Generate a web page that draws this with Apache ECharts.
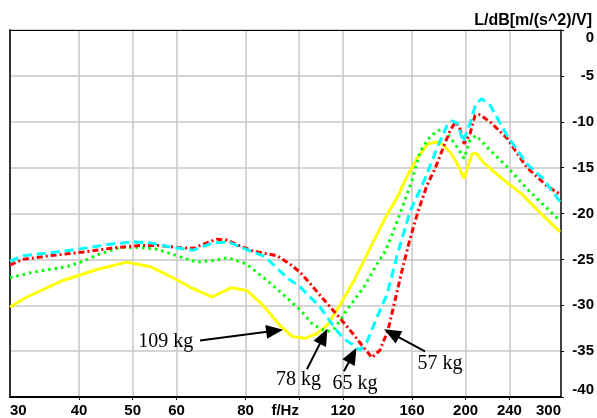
<!DOCTYPE html>
<html><head><meta charset="utf-8">
<script src="https://cdn.jsdelivr.net/npm/echarts@6/dist/echarts.min.js"></script>
<style>html,body{margin:0;padding:0;background:#fff}#c{width:597px;height:418px}</style>
</head><body><div id="c"></div>
<script>
// ---- data (frequency in Hz, level in dB) ----
const freq57 = [30,31.7,35.4,40.7,46.8,51.5,56.0,60.1,64.3,68.1,71.0,74.1,77.2,82.5,91.2,96.2,100.4,105.9,112.3,118.5,125.1,130.4,135.4,140.0,144.8,149.0,153.5,158.6,164.0,170.3,176.1,182.0,187.4,191.3,194.6,198.7,203.7,208.0,211.4,221.4,237.6,258.2,280.6,296.3];
const db57   = [-25.6,-25.0,-24.6,-24.2,-23.7,-23.5,-23.5,-23.7,-23.8,-23.2,-22.8,-22.9,-23.4,-24.1,-24.6,-25.5,-26.4,-28.0,-29.8,-31.4,-33.1,-34.5,-35.7,-34.9,-32.7,-29.5,-26.2,-22.8,-19.8,-16.9,-15.1,-12.9,-11.0,-10.1,-10.4,-12.4,-11.3,-9.3,-9.2,-10.0,-11.8,-15.0,-17.0,-17.9];

const freq65 = [30,31.7,35.4,40.7,46.1,50.1,53.8,59.1,64.3,69.8,74.4,80.2,86.7,95.1,100.4,109.1,115.1,120.0,125.1,128.8,132.6,138.3,144.2,150.3,158.6,168.9,177.5,185.1,189.0,193.7,197.8,203.7,208.8,214.1,221.4,237.6,258.2,276.0,296.3];
const db65   = [-25.2,-24.6,-24.3,-23.8,-23.3,-23.1,-23.2,-23.7,-24.0,-23.2,-23.1,-23.9,-24.7,-27.0,-28.0,-30.2,-32.2,-33.6,-34.3,-34.9,-34.0,-31.3,-28.8,-24.6,-19.8,-16.2,-12.9,-10.4,-9.9,-10.2,-12.2,-10.2,-8.0,-7.5,-8.2,-11.5,-14.6,-16.2,-18.7];

const freq78 = [30,33.0,38.0,40.7,43.6,47.4,51.5,55.3,60.1,65.3,70.4,74.4,80.2,86.7,92.3,100.4,105.9,112.3,116.1,122.0,131.0,138.3,143.2,147.2,152.2,160.0,165.4,171.0,177.5,182.0,187.4,193.7,198.7,203.7,208.8,221.4,237.6,258.2,272.6,296.3];
const db78   = [-27.0,-26.4,-25.8,-25.2,-24.4,-23.7,-23.7,-23.9,-24.6,-25.3,-25.1,-24.8,-25.5,-27.1,-28.5,-30.5,-32.1,-32.9,-32.5,-30.5,-28.0,-25.5,-24.1,-22.3,-20.0,-16.4,-13.3,-11.9,-11.0,-10.8,-11.7,-12.9,-14.0,-12.0,-11.5,-13.1,-14.9,-17.3,-18.7,-20.8];

const freq109 = [30,32.2,37.4,43.1,48.8,53.8,59.1,64.3,69.6,75.3,80.5,85.7,92.3,97.1,102.5,107.7,112.3,118.5,126.2,134.3,143.6,150.9,155.4,163.3,171.0,177.5,182.0,187.4,192.9,198.7,205.4,209.7,215.0,230.8,253.9,272.6,296.3];
const db109   = [-30.2,-29.1,-27.3,-26.1,-25.3,-25.8,-27.0,-28.2,-29.1,-28.1,-28.4,-29.9,-32.2,-33.4,-33.6,-33.1,-32.2,-30.0,-27.1,-23.8,-20.3,-18.1,-16.4,-14.0,-12.4,-12.2,-12.5,-13.3,-14.5,-16.2,-13.5,-13.5,-14.4,-16.0,-18.0,-19.9,-22.0];

// axis ticks
const xTickFreqs  = [30,40,50,60,80,100,120,160,200,240,300];
const xTickLabels = ['30','40','50','60','80','f/Hz','120','160','200','240','300'];
const xGridFreqs  = [40,50,60,80,100,120,160,200,240];
const xMinFreq = 30, xMaxFreq = 297.5;
const yMin = -40, yMax = 0, yStep = 5;
const yName = 'L/dB[m/(s^2)/V]';

// annotations
const annoText     = ['109 kg','78 kg','65 kg','57 kg'];
const annoTextFreq = [57.4, 99.7, 126.2, 179.8];
const annoTextDb   = [-33.96, -38.11, -38.6, -36.33];
const arrowFromFreq = [66.2, 103.3, 120.5, 168.9];
const arrowFromDb   = [-33.85, -36.98, -37.2, -35.04];
const arrowToFreq   = [90.3, 110.7, 124.9, 146.9];
const arrowToDb     = [-32.78, -33.39, -35.44, -33.06];

// ---- chart ----
const L = Math.log10;
const xMin = L(xMinFreq), xMax = L(xMaxFreq);
const toPts = (f, d) => f.map((v, i) => [L(v), d[i]]);
const labelPos = xTickFreqs.map(f => Math.min(L(f), xMax));
const labelMap = {};
labelPos.forEach((p, i) => { labelMap[p.toFixed(6)] = xTickLabels[i]; });

const bold = {fontFamily: 'Liberation Sans, Arial, sans-serif', fontWeight: 'bold', fontSize: 15, color: '#000'};

const chart = echarts.init(document.getElementById('c'), null, {renderer: 'canvas'});
chart.setOption({
  animation: false,
  backgroundColor: '#fff',
  grid: {left: 10, right: 36, top: 30, bottom: 17, containLabel: false},
  xAxis: [{
    type: 'value', min: xMin, max: xMax, position: 'bottom',
    axisLine: {show: true, onZero: false, lineStyle: {color: '#000', width: 2}},
    axisTick: {show: true, customValues: xGridFreqs.map(L), length: 3, lineStyle: {color: '#000'}},
    splitLine: {show: true, lineStyle: {color: '#c8c8c8', width: 1.5}},
    axisLabel: Object.assign({}, bold, {
      customValues: labelPos, margin: 6,
      alignMinLabel: 'left', alignMaxLabel: 'right',
      formatter: v => {
        const t = labelMap[v.toFixed(6)] || '';
        return t === 'f/Hz' ? '{f|f/Hz}' : t;
      },
      rich: {f: Object.assign({}, bold, {padding: [0, 28, 0, 0]})}
    })
  }, {
    type: 'value', min: xMin, max: xMax, position: 'top',
    axisLine: {show: true, onZero: false, lineStyle: {color: '#000', width: 1}},
    axisTick: {show: false}, axisLabel: {show: false}, splitLine: {show: false}
  }],
  yAxis: [{
    type: 'value', min: yMin, max: yMax, interval: yStep, position: 'right',
    axisLine: {show: true, onZero: false, lineStyle: {color: '#000', width: 1.5}},
    axisTick: {show: true, length: 3, lineStyle: {color: '#000'}},
    splitLine: {show: true, lineStyle: {color: '#c8c8c8', width: 1.5}},
    axisLabel: Object.assign({}, bold, {
      margin: 33, align: 'right',
      verticalAlignMaxLabel: 'top', verticalAlignMinLabel: 'bottom'
    })
  }, {
    type: 'value', min: yMin, max: yMax, position: 'left',
    axisLine: {show: true, onZero: false, lineStyle: {color: '#333', width: 2}},
    axisTick: {show: false}, axisLabel: {show: false}, splitLine: {show: false}
  }],
  graphic: [{
    type: 'text', right: 5, top: 13,
    style: {text: yName, fill: '#000', font: 'bold 16px "Liberation Sans", Arial, sans-serif'}
  }],
  series: [
    {name: '109 kg', type: 'line', data: toPts(freq109, db109), showSymbol: false, symbol: 'none',
     lineStyle: {color: '#ffff00', width: 3, type: 'solid'}, z: 2},
    {name: '78 kg', type: 'line', data: toPts(freq78, db78), showSymbol: false, symbol: 'none',
     lineStyle: {color: '#00ff00', width: 3, type: [2.5, 4]}, z: 3},
    {name: '57 kg', type: 'line', data: toPts(freq57, db57), showSymbol: false, symbol: 'none',
     lineStyle: {color: '#ff0000', width: 3, type: [6, 3, 2, 3]}, z: 4},
    {name: '65 kg', type: 'line', data: toPts(freq65, db65), showSymbol: false, symbol: 'none',
     lineStyle: {color: '#00ffff', width: 3, type: [9, 5]}, z: 5},
    {name: 'labels', type: 'scatter', symbolSize: 0, z: 10,
     itemStyle: {opacity: 1},
     data: annoText.map((t, i) => ({name: t, value: [L(annoTextFreq[i]), annoTextDb[i]]})),
     label: {show: true, position: 'inside', formatter: p => p.name,
       fontFamily: 'Liberation Serif, Times New Roman, serif', fontSize: 20, color: '#000', opacity: 1},
     markLine: {
       silent: true, symbol: ['none', 'triangle'], symbolSize: [14, 17],
       lineStyle: {color: '#000', width: 2, type: 'solid', opacity: 1},
       label: {show: false},
       data: annoText.map((t, i) => [
         {coord: [L(arrowFromFreq[i]), arrowFromDb[i]]},
         {coord: [L(arrowToFreq[i]), arrowToDb[i]]}
       ])
     }}
  ]
});
</script></body></html>
